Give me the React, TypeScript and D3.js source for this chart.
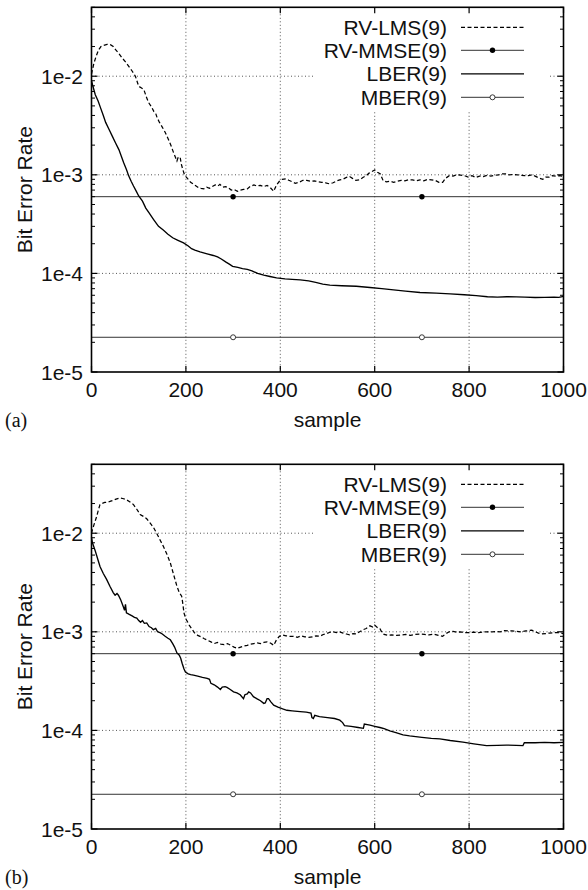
import React from "react";
import * as d3 from "d3";

type P = [number, number];

const xTicks = [0, 200, 400, 600, 800, 1000];
const yMajor = [1e-5, 1e-4, 1e-3, 1e-2];
const yLabels = ["1e-5", "1e-4", "1e-3", "1e-2"];
const legendNames = ["RV-LMS(9)", "RV-MMSE(9)", "LBER(9)", "MBER(9)"];
const mmseLevel = 6.0e-4;
const mberLevel = 2.25e-5;
const markerSamples = [300, 700];

const lmsA: P[] = [
  [0, 1.05e-2], [5, 1.35e-2], [10, 1.6e-2], [15, 1.85e-2], [20, 2.0e-2], [26, 2.06e-2], [33, 2.1e-2], [40, 2.09e-2],
  [46, 2.0e-2], [51, 1.86e-2], [58, 1.7e-2], [65, 1.53e-2], [72, 1.4e-2], [79, 1.26e-2], [86, 1.13e-2], [93, 1.0e-2],
  [100, 7.9e-3], [106, 7.6e-3], [111, 7.3e-3], [116, 6.2e-3], [121, 5.4e-3], [127, 4.9e-3], [132, 4.4e-3], [136, 4.2e-3],
  [139, 3.8e-3], [144, 3.4e-3], [149, 3.1e-3], [156, 2.7e-3], [163, 2.28e-3], [169, 1.95e-3], [174, 1.67e-3], [178, 1.5e-3],
  [181, 1.38e-3], [184, 1.52e-3], [188, 1.49e-3], [190, 1.3e-3], [193, 1.15e-3], [197, 1.0e-3], [200, 9.6e-4], [205, 9.0e-4],
  [210, 8.4e-4], [215, 8.1e-4], [220, 7.8e-4], [227, 7.4e-4], [232, 7.3e-4], [238, 7.2e-4], [244, 7.5e-4], [250, 7.3e-4],
  [256, 7.6e-4], [262, 7.9e-4], [268, 7.7e-4], [272, 8.0e-4], [278, 7.5e-4], [284, 7.6e-4], [290, 7.4e-4], [296, 7.0e-4],
  [302, 7.1e-4], [309, 6.8e-4], [315, 7.0e-4], [322, 7.1e-4], [330, 7.2e-4], [336, 7.6e-4], [344, 7.9e-4], [350, 7.7e-4],
  [358, 7.8e-4], [365, 7.6e-4], [372, 7.8e-4], [379, 7.4e-4], [386, 6.8e-4], [392, 7.9e-4], [398, 8.6e-4], [404, 9.0e-4],
  [412, 9.1e-4], [418, 8.8e-4], [425, 8.5e-4], [432, 8.2e-4], [440, 8.4e-4], [448, 8.8e-4], [456, 8.8e-4], [464, 8.6e-4],
  [472, 8.7e-4], [480, 8.5e-4], [488, 8.4e-4], [496, 8.3e-4], [504, 8.1e-4], [512, 8.3e-4], [520, 8.7e-4], [526, 8.9e-4],
  [532, 9.0e-4], [540, 9.4e-4], [547, 9.6e-4], [553, 9.2e-4], [560, 8.8e-4], [568, 8.9e-4], [575, 9.4e-4], [582, 9.8e-4],
  [588, 1.04e-3], [594, 1.08e-3], [600, 1.12e-3], [606, 1.06e-3], [612, 1.02e-3], [618, 8.7e-4], [625, 8.5e-4], [632, 8.6e-4],
  [640, 8.4e-4], [648, 8.6e-4], [656, 8.8e-4], [664, 8.7e-4], [672, 8.9e-4], [680, 8.9e-4], [688, 8.7e-4], [696, 8.9e-4],
  [704, 8.7e-4], [712, 9.0e-4], [720, 8.9e-4], [728, 8.8e-4], [736, 8.4e-4], [744, 8.4e-4], [750, 9.2e-4], [758, 9.8e-4],
  [766, 9.7e-4], [774, 1.0e-3], [782, 9.9e-4], [790, 9.8e-4], [798, 9.5e-4], [806, 9.8e-4], [814, 9.4e-4], [822, 9.7e-4],
  [830, 9.6e-4], [838, 9.9e-4], [846, 9.7e-4], [854, 9.9e-4], [862, 1.0e-3], [870, 1.02e-3], [878, 1.02e-3], [886, 1.0e-3],
  [894, 1.01e-3], [902, 1.0e-3], [910, 9.9e-4], [918, 9.8e-4], [926, 9.8e-4], [934, 1.0e-3], [942, 9.6e-4], [950, 9.2e-4],
  [956, 9.0e-4], [962, 9.5e-4], [970, 9.5e-4], [976, 9.8e-4], [984, 9.7e-4], [992, 9.8e-4], [1000, 9.6e-4],
];

const lberA: P[] = [
  [0, 9.0e-3], [3, 7.9e-3], [8, 6.5e-3], [14, 5.6e-3], [19, 4.8e-3], [25, 4.0e-3], [30, 3.4e-3], [37, 2.9e-3],
  [44, 2.47e-3], [51, 2.1e-3], [58, 1.8e-3], [63, 1.55e-3], [68, 1.33e-3], [74, 1.13e-3], [79, 9.7e-4], [84, 8.6e-4],
  [89, 7.7e-4], [95, 6.8e-4], [100, 6.1e-4], [108, 5.4e-4], [115, 4.6e-4], [122, 4.1e-4], [132, 3.5e-4], [142, 3.0e-4],
  [152, 2.75e-4], [162, 2.5e-4], [172, 2.3e-4], [182, 2.18e-4], [195, 2.04e-4], [205, 1.9e-4], [212, 1.78e-4], [219, 1.72e-4],
  [230, 1.65e-4], [245, 1.58e-4], [258, 1.52e-4], [267, 1.47e-4], [275, 1.4e-4], [285, 1.3e-4], [292, 1.24e-4], [299, 1.18e-4],
  [310, 1.15e-4], [320, 1.12e-4], [330, 1.1e-4], [340, 1.06e-4], [352, 1.0e-4], [365, 9.6e-5], [378, 9.3e-5], [392, 9.0e-5],
  [410, 8.8e-5], [425, 8.7e-5], [442, 8.6e-5], [460, 8.4e-5], [475, 8.1e-5], [490, 7.8e-5], [505, 7.6e-5], [530, 7.5e-5],
  [561, 7.4e-5], [590, 7.2e-5], [615, 7.0e-5], [640, 6.8e-5], [665, 6.6e-5], [696, 6.4e-5], [730, 6.3e-5], [760, 6.2e-5],
  [790, 6.08e-5], [815, 5.95e-5], [839, 5.8e-5], [860, 5.75e-5], [880, 5.8e-5], [900, 5.78e-5], [918, 5.75e-5], [940, 5.7e-5],
  [960, 5.72e-5], [980, 5.74e-5], [990, 5.72e-5], [1000, 5.85e-5],
];

const lmsB: P[] = [
  [0, 1.0e-2], [2, 1.09e-2], [6, 1.25e-2], [11, 1.48e-2], [15, 1.75e-2], [18, 1.95e-2], [22, 2.0e-2], [28, 2.05e-2],
  [34, 2.07e-2], [39, 2.1e-2], [45, 2.15e-2], [52, 2.22e-2], [60, 2.28e-2], [66, 2.25e-2], [73, 2.2e-2], [80, 2.1e-2],
  [89, 1.95e-2], [96, 1.75e-2], [103, 1.55e-2], [110, 1.48e-2], [117, 1.4e-2], [124, 1.27e-2], [131, 1.15e-2], [138, 1.0e-2],
  [145, 8.6e-3], [152, 7.4e-3], [160, 6.1e-3], [167, 5.0e-3], [174, 3.8e-3], [181, 2.9e-3], [186, 2.5e-3], [191, 2.3e-3],
  [193, 2.0e-3], [196, 1.55e-3], [200, 1.35e-3], [204, 1.25e-3], [207, 1.17e-3], [212, 1.08e-3], [218, 9.8e-4], [225, 9.2e-4],
  [232, 8.9e-4], [239, 8.5e-4], [246, 8.2e-4], [253, 7.9e-4], [260, 7.6e-4], [267, 7.8e-4], [274, 7.5e-4], [281, 7.4e-4],
  [288, 7.6e-4], [295, 7.3e-4], [302, 7.0e-4], [309, 6.8e-4], [316, 7.0e-4], [323, 7.2e-4], [330, 7.3e-4], [337, 7.5e-4],
  [344, 7.6e-4], [351, 7.7e-4], [358, 7.6e-4], [365, 7.8e-4], [372, 7.9e-4], [379, 7.7e-4], [386, 7.3e-4], [392, 8.3e-4],
  [398, 9.0e-4], [404, 9.3e-4], [412, 9.1e-4], [420, 9.0e-4], [428, 9.0e-4], [436, 8.8e-4], [444, 9.1e-4], [452, 8.9e-4],
  [460, 8.8e-4], [468, 8.9e-4], [476, 9.1e-4], [484, 9.0e-4], [491, 9.4e-4], [498, 9.6e-4], [505, 9.9e-4], [512, 1.0e-3],
  [519, 9.8e-4], [526, 1.0e-3], [533, 9.7e-4], [540, 9.5e-4], [547, 9.3e-4], [554, 9.6e-4], [561, 9.5e-4], [568, 1.0e-3],
  [575, 1.05e-3], [582, 1.08e-3], [590, 1.15e-3], [596, 1.12e-3], [600, 1.17e-3], [606, 1.1e-3], [611, 1.08e-3], [615, 9.9e-4],
  [620, 9.4e-4], [628, 9.2e-4], [636, 9.3e-4], [646, 9.2e-4], [656, 9.3e-4], [666, 9.4e-4], [676, 9.2e-4], [686, 9.4e-4],
  [695, 9.5e-4], [705, 9.4e-4], [715, 9.3e-4], [725, 9.5e-4], [735, 9.2e-4], [744, 9.0e-4], [751, 9.6e-4], [758, 1.0e-3],
  [766, 1.01e-3], [774, 9.9e-4], [782, 1.0e-3], [790, 9.8e-4], [800, 9.8e-4], [810, 9.9e-4], [820, 9.8e-4], [830, 1.0e-3],
  [840, 1.0e-3], [849, 1.0e-3], [858, 1.01e-3], [866, 1.0e-3], [875, 1.03e-3], [884, 1.02e-3], [891, 1.02e-3], [900, 1.01e-3],
  [910, 1.0e-3], [920, 1.02e-3], [927, 1.03e-3], [933, 1.04e-3], [940, 1.0e-3], [947, 9.7e-4], [954, 9.5e-4], [962, 9.6e-4],
  [970, 9.7e-4], [980, 9.8e-4], [989, 9.8e-4], [1000, 9.6e-4],
];

const lberB: P[] = [
  [0, 9.0e-3], [2, 8.0e-3], [8, 6.6e-3], [13, 5.5e-3], [18, 4.6e-3], [25, 3.9e-3], [32, 3.4e-3], [39, 2.9e-3],
  [46, 2.5e-3], [50, 2.35e-3], [54, 2.45e-3], [57, 2.35e-3], [62, 2.1e-3], [67, 1.82e-3], [70, 1.65e-3], [72, 1.9e-3],
  [74, 1.56e-3], [80, 1.5e-3], [86, 1.45e-3], [91, 1.4e-3], [96, 1.38e-3], [100, 1.3e-3], [104, 1.25e-3], [108, 1.3e-3],
  [112, 1.22e-3], [117, 1.23e-3], [122, 1.13e-3], [127, 1.1e-3], [131, 1.05e-3], [136, 1.08e-3], [140, 1.0e-3], [145, 9.8e-4],
  [150, 9.5e-4], [156, 9.0e-4], [162, 8.6e-4], [167, 8.3e-4], [172, 7.6e-4], [176, 7.0e-4], [181, 6.1e-4], [186, 5.8e-4],
  [189, 5.4e-4], [192, 4.8e-4], [196, 4.2e-4], [199, 3.9e-4], [205, 3.75e-4], [210, 3.68e-4], [216, 3.64e-4], [225, 3.55e-4],
  [235, 3.45e-4], [245, 3.37e-4], [250, 3.3e-4], [253, 3.0e-4], [260, 2.9e-4], [267, 2.75e-4], [273, 2.6e-4], [277, 2.75e-4],
  [283, 2.78e-4], [287, 2.73e-4], [294, 2.6e-4], [301, 2.46e-4], [308, 2.4e-4], [315, 2.3e-4], [322, 2.1e-4], [325, 2.3e-4],
  [330, 2.35e-4], [333, 2.46e-4], [337, 2.4e-4], [343, 2.2e-4], [350, 2.1e-4], [358, 2.0e-4], [365, 1.88e-4], [368, 1.9e-4],
  [372, 2.1e-4], [375, 2.1e-4], [380, 1.95e-4], [386, 1.8e-4], [395, 1.72e-4], [405, 1.65e-4], [414, 1.6e-4], [425, 1.58e-4],
  [442, 1.55e-4], [455, 1.53e-4], [465, 1.5e-4], [467, 1.35e-4], [470, 1.32e-4], [473, 1.42e-4], [483, 1.38e-4], [500, 1.35e-4],
  [515, 1.32e-4], [526, 1.27e-4], [532, 1.2e-4], [536, 1.12e-4], [550, 1.1e-4], [565, 1.07e-4], [576, 1.05e-4], [578, 1.16e-4],
  [590, 1.13e-4], [600, 1.1e-4], [611, 1.07e-4], [620, 1.04e-4], [632, 9.9e-5], [645, 9.5e-5], [660, 9.0e-5], [674, 8.8e-5],
  [700, 8.5e-5], [720, 8.3e-5], [738, 8.2e-5], [760, 7.9e-5], [787, 7.6e-5], [810, 7.3e-5], [837, 7.0e-5], [860, 7.05e-5],
  [879, 7.1e-5], [900, 7.05e-5], [914, 7.0e-5], [917, 7.5e-5], [940, 7.5e-5], [960, 7.55e-5], [980, 7.5e-5], [1000, 7.55e-5],
];

const FONT = "'Liberation Sans', Arial, Helvetica, sans-serif";
const FS = 21;

function minorTicks(): number[] {
  const out: number[] = [];
  for (let e = -5; e <= -2; e++) {
    for (let m = 2; m <= 9; m++) {
      const v = m * Math.pow(10, e);
      if (v <= 5e-2) out.push(v);
    }
  }
  return out;
}

function Panel({ top, label, lms, lber }: { top: number; label: string; lms: P[]; lber: P[] }) {
  const left = 91.5;
  const right = 563.5;
  const bottom = top + 364.7;
  const x = d3.scaleLinear().domain([0, 1000]).range([left, right]);
  const y = d3.scaleLog().domain([1e-5, 5e-2]).range([bottom, top]);
  const line = d3.line<P>().x((d) => x(d[0])).y((d) => y(d[1]));
  const minors = minorTicks();
  const legX1 = 461;
  const legX2 = 524;
  const legTextX = 447;
  const legRows = [20, 43, 66.5, 90].map((o) => top + o);
  const gridStyle = { stroke: "#555", strokeWidth: 1, strokeDasharray: "1,2.5" };
  return (
    <g>
      {xTicks.slice(1, -1).map((t) => (
        <line key={"gx" + t} x1={x(t)} x2={x(t)} y1={top} y2={bottom} {...gridStyle} />
      ))}
      {yMajor.slice(1).map((t) => (
        <line key={"gy" + t} x1={left} x2={right} y1={y(t)} y2={y(t)} {...gridStyle} />
      ))}
      <rect x={313} y={top + 1} width={235} height={102} fill="#fff" />
      <line x1={left} x2={right} y1={y(mmseLevel)} y2={y(mmseLevel)} stroke="#333" strokeWidth={1} />
      <line x1={left} x2={right} y1={y(mberLevel)} y2={y(mberLevel)} stroke="#333" strokeWidth={1} />
      {markerSamples.map((s) => (
        <circle key={"m" + s} cx={x(s)} cy={y(mmseLevel)} r={2.7} fill="#000" />
      ))}
      {markerSamples.map((s) => (
        <circle key={"b" + s} cx={x(s)} cy={y(mberLevel)} r={2.5} fill="#fff" stroke="#222" strokeWidth={0.9} />
      ))}
      <path d={line(lms) || ""} fill="none" stroke="#000" strokeWidth={1.25} strokeDasharray="4,2.5" />
      <path d={line(lber) || ""} fill="none" stroke="#000" strokeWidth={1.35} />
      {legendNames.map((n, i) => (
        <text key={n} x={legTextX} y={legRows[i]} dy="0.35em" textAnchor="end" fontFamily={FONT} fontSize={FS} fill="#111">
          {n}
        </text>
      ))}
      <line x1={legX1} x2={legX2} y1={legRows[0]} y2={legRows[0]} stroke="#000" strokeWidth={1.2} strokeDasharray="4,2.5" />
      <line x1={legX1} x2={legX2} y1={legRows[1]} y2={legRows[1]} stroke="#333" strokeWidth={1} />
      <circle cx={(legX1 + legX2) / 2} cy={legRows[1]} r={2.7} fill="#000" />
      <line x1={legX1} x2={legX2} y1={legRows[2]} y2={legRows[2]} stroke="#000" strokeWidth={1.35} />
      <line x1={legX1} x2={legX2} y1={legRows[3]} y2={legRows[3]} stroke="#333" strokeWidth={1} />
      <circle cx={(legX1 + legX2) / 2} cy={legRows[3]} r={2.5} fill="#fff" stroke="#222" strokeWidth={0.9} />
      {xTicks.map((t) => (
        <g key={"tx" + t}>
          <line x1={x(t)} x2={x(t)} y1={bottom} y2={bottom - 6} stroke="#000" strokeWidth={1.2} />
          <line x1={x(t)} x2={x(t)} y1={top} y2={top + 6} stroke="#000" strokeWidth={1.2} />
          <text x={x(t)} y={bottom + 25} textAnchor="middle" fontFamily={FONT} fontSize={FS} fill="#111">
            {t}
          </text>
        </g>
      ))}
      {yMajor.map((t, i) => (
        <g key={"ty" + t}>
          <line x1={left} x2={left + 6} y1={y(t)} y2={y(t)} stroke="#000" strokeWidth={1.2} />
          <line x1={right} x2={right - 6} y1={y(t)} y2={y(t)} stroke="#000" strokeWidth={1.2} />
          <text x={83} y={y(t)} dy="0.36em" textAnchor="end" fontFamily={FONT} fontSize={FS} fill="#111">
            {yLabels[i]}
          </text>
        </g>
      ))}
      {minors.map((t) => (
        <g key={"mn" + t}>
          <line x1={left} x2={left + 3.5} y1={y(t)} y2={y(t)} stroke="#000" strokeWidth={1} />
          <line x1={right} x2={right - 3.5} y1={y(t)} y2={y(t)} stroke="#000" strokeWidth={1} />
        </g>
      ))}
      <rect x={left} y={top} width={right - left} height={bottom - top} fill="none" stroke="#000" strokeWidth={1.6} />
      <text
        transform={`translate(32,${(top + bottom) / 2}) rotate(-90)`}
        textAnchor="middle"
        fontFamily={FONT}
        fontSize={FS}
        fill="#111"
      >
        Bit Error Rate
      </text>
      <text x={(left + right) / 2} y={bottom + 55} textAnchor="middle" fontFamily={FONT} fontSize={FS} fill="#111">
        sample
      </text>
      <text x={5} y={bottom + 55} fontFamily="'Liberation Serif', 'Times New Roman', serif" fontSize={20} fill="#111">
        {label}
      </text>
    </g>
  );
}

export default function App() {
  return (
    <svg
      width={588}
      height={890}
      style={{ position: "absolute", left: 0, top: 0, background: "#fff" }}
      xmlns="http://www.w3.org/2000/svg"
    >
      <rect width={588} height={890} fill="#fff" />
      <Panel top={7.3} label="(a)" lms={lmsA} lber={lberA} />
      <Panel top={464.3} label="(b)" lms={lmsB} lber={lberB} />
    </svg>
  );
}
